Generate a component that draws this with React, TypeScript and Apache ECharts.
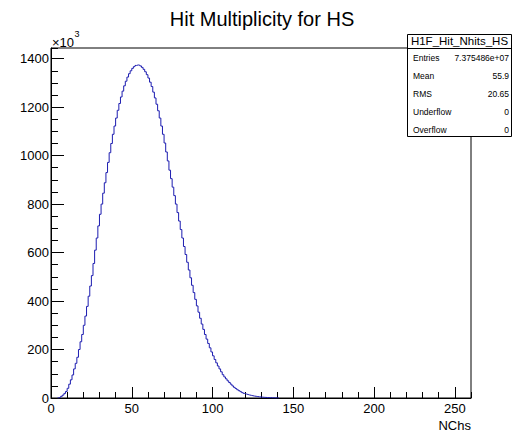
import React, { useEffect, useRef } from "react";
import * as echarts from "echarts";

// Histogram of hit multiplicity, counts in thousands (×10³), one bin per NChs unit
const firstBin = 4;
const binCounts = [
  0.5, 3, 7, 12, 19, 27, 40, 57, 75, 95,
  120, 143, 168, 200, 232, 262, 300, 338, 378, 420,
  462, 505, 555, 610, 660, 710, 758, 800, 845, 888,
  930, 972, 1012, 1050, 1088, 1122, 1155, 1187, 1215, 1242,
  1266, 1288, 1307, 1324, 1338, 1350, 1360, 1367, 1372, 1374,
  1373, 1370, 1364, 1356, 1346, 1334, 1320, 1303, 1285, 1262,
  1238, 1212, 1185, 1155, 1122, 1088, 1052, 1015, 978, 940,
  905, 870, 835, 800, 765, 730, 695, 660, 625, 592,
  560, 528, 496, 465, 435, 407, 380, 354, 329, 305,
  283, 262, 243, 225, 207, 190, 174, 159, 145, 132,
  120, 108, 96, 87, 79, 71, 64, 57, 50, 44,
  39, 34, 30, 26, 22, 19, 16.5, 14.5, 12.5, 11,
  9.5, 8, 7, 6, 5, 4.2, 3.5, 2.9, 2.4, 2,
  1.6, 1.3, 1, 0.8, 0.6, 0.5, 0.4,
];
const xMin = 0;
const xMax = 260;
const yMax = 1444;
const xMajor = 50;
const xMinor = 10;
const yMajor = 200;
const yMinor = 50;

const titleText = "Hit Multiplicity for HS";
const xTitle = "NChs";
const statsName = "H1F_Hit_Nhits_HS";
const statLabels = ["Entries", "Mean", "RMS", "Underflow", "Overflow"];
const statValues = ["7.375486e+07", "55.9", "20.65", "0", "0"];

const FONT = "'Liberation Sans', Arial, Helvetica, sans-serif";

export default function App() {
  const ref = useRef<HTMLDivElement>(null);
  useEffect(() => {
    if (!ref.current) return;
    const chart = echarts.init(ref.current, null, { renderer: "svg" });

    const data: number[][] = [[firstBin, 0]];
    binCounts.forEach((c, i) => data.push([firstBin + i, c]));
    data.push([firstBin + binCounts.length, 0]);

    const gl = 51, gt = 48, gw = 420, gh = 350;
    const bx = 407, by = 34, bw = 104, bh = 102, sep = 48;
    const rowY = [58, 76, 94, 112, 130];

    const graphics: any[] = [
      {
        type: "text",
        x: 262, y: 19,
        style: { text: titleText, font: `20px ${FONT}`, fill: "#000", textAlign: "center", textVerticalAlign: "middle" },
      },
      {
        type: "text",
        x: 52, y: 42,
        style: { text: "×10", font: `13px ${FONT}`, fill: "#000", textAlign: "left", textVerticalAlign: "middle" },
      },
      {
        type: "text",
        x: 74.5, y: 34,
        style: { text: "3", font: `9px ${FONT}`, fill: "#000", textAlign: "left", textVerticalAlign: "middle" },
      },
      {
        type: "text",
        x: 471, y: 425,
        style: { text: xTitle, font: `13px ${FONT}`, fill: "#000", textAlign: "right", textVerticalAlign: "middle" },
      },
      {
        type: "rect",
        z: 100,
        shape: { x: bx + 0.5, y: by + 0.5, width: bw, height: bh },
        style: { fill: "#fff", stroke: "#000", lineWidth: 1 },
      },
      {
        type: "line",
        z: 101,
        shape: { x1: bx, y1: sep + 0.5, x2: bx + bw, y2: sep + 0.5 },
        style: { stroke: "#000", lineWidth: 1 },
      },
      {
        type: "text",
        z: 101,
        x: bx + bw / 2 + 0.5, y: 40.5,
        style: { text: statsName, font: `11.5px ${FONT}`, fill: "#000", textAlign: "center", textVerticalAlign: "middle" },
      },
    ];
    statLabels.forEach((lab, i) => {
      graphics.push({
        type: "text", z: 101, x: 413, y: rowY[i],
        style: { text: lab, font: `8.5px ${FONT}`, fill: "#000", textAlign: "left", textVerticalAlign: "middle" },
      });
      graphics.push({
        type: "text", z: 101, x: 509, y: rowY[i],
        style: { text: statValues[i], font: `8.5px ${FONT}`, fill: "#000", textAlign: "right", textVerticalAlign: "middle" },
      });
    });

    chart.setOption({
      animation: false,
      backgroundColor: "#fff",
      grid: { left: gl, top: gt, width: gw, height: gh, show: true, borderColor: "#000", borderWidth: 1, backgroundColor: "transparent" },
      xAxis: [
        {
          type: "value", min: xMin, max: xMax, interval: xMajor,
          axisLine: { show: true, lineStyle: { color: "#000", width: 1 } },
          axisTick: { show: true, inside: true, length: 11, lineStyle: { color: "#000" } },
          axisLabel: { show: true, color: "#000", fontSize: 13, fontFamily: FONT, margin: 4, showMaxLabel: false, formatter: (v: number) => String(v) },
          splitLine: { show: false },
        },
        {
          type: "value", min: xMin, max: xMax, interval: xMinor, position: "bottom", offset: 0,
          axisLine: { show: false },
          axisTick: { show: true, inside: true, length: 6, lineStyle: { color: "#000" } },
          axisLabel: { show: false },
          splitLine: { show: false },
        },
      ],
      yAxis: [
        {
          type: "value", min: 0, max: yMax, interval: yMajor,
          axisLine: { show: true, lineStyle: { color: "#000", width: 1 } },
          axisTick: { show: true, inside: true, length: 13, lineStyle: { color: "#000" } },
          axisLabel: { show: true, color: "#000", fontSize: 13, fontFamily: FONT, margin: 2, showMaxLabel: false, formatter: (v: number) => String(v) },
          splitLine: { show: false },
        },
        {
          type: "value", min: 0, max: yMax, interval: yMinor, position: "left", offset: 0,
          axisLine: { show: false },
          axisTick: { show: true, inside: true, length: 7, lineStyle: { color: "#000" } },
          axisLabel: { show: false },
          splitLine: { show: false },
        },
      ],
      series: [
        {
          type: "line",
          xAxisIndex: 0,
          yAxisIndex: 0,
          step: "end",
          data,
          symbol: "none",
          lineStyle: { color: "#1c1cb0", width: 1 },
          z: 5,
        },
      ],
      graphic: graphics,
    });
    return () => chart.dispose();
  }, []);
  return <div ref={ref} style={{ position: "absolute", left: 0, top: 0, width: 513, height: 431 }} />;
}
